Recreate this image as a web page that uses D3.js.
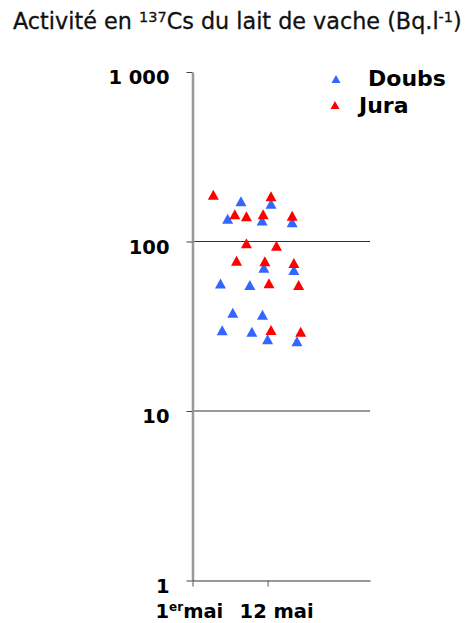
<!DOCTYPE html>
<html>
<head>
<meta charset="utf-8">
<script src="https://cdn.jsdelivr.net/npm/d3@7"></script>
<style>
  body { margin: 0; background: #fff; }
  text { font-family: "DejaVu Sans", sans-serif; fill: #000; }
</style>
</head>
<body>
<script>
// day of May (x) and activity in Bq/l (y)
var doubsDay = [8.1, 12.5, 6.15, 11.2, 15.6, 11.45, 15.85, 5.1, 9.4, 6.9, 11.25, 5.35, 9.7, 12.0, 16.3];
var doubsVal = [173, 167, 136, 133, 130, 70, 68, 56.6, 55.3, 38, 37, 30, 29.3, 26.5, 25.8];

var juraDay = [4.05, 12.5, 7.2, 8.9, 11.35, 15.6, 8.9, 13.3, 7.45, 11.6, 15.85, 12.2, 16.55, 12.5, 16.85];
var juraVal = [189, 185, 145, 141, 145, 142, 97.5, 94.4, 77, 76.4, 74.6, 56.8, 55.3, 30.1, 29.3];

var yTicks = [1, 10, 100, 1000];
var yTickLabels = ["1", "10", "100", "1 000"];
var gridVals = [10, 100];

var width = 473, height = 623;

var svg = d3.select("body").append("svg")
	.attr("width", width)
	.attr("height", height);

var x = d3.scaleLinear().domain([1, 27]).range([192.5, 370]);
var y = d3.scaleLog().domain([1, 1000]).range([580.5, 72]);

// title
var title = svg.append("text")
	.attr("x", 13)
	.attr("y", 29)
	.style("font-size", "22.3px")
	.style("fill", "#111")
	.style("stroke", "#111")
	.style("stroke-width", 0.3);
title.append("tspan").text("Activité en ");
title.append("tspan").attr("dy", -7).style("font-size", "14.5px").text("137");
title.append("tspan").attr("dy", 7).text("Cs du lait de vache (Bq.l");
title.append("tspan").attr("dy", -7).style("font-size", "14.5px").text("-1");
title.append("tspan").attr("dy", 7).text(")");

// gridlines
svg.selectAll(".grid")
	.data(gridVals)
	.enter()
	.append("line")
	.attr("class", "grid")
	.attr("x1", x(1))
	.attr("x2", x(27))
	.attr("y1", function (d) { return y(d); })
	.attr("y2", function (d) { return y(d); })
	.attr("stroke", "#333")
	.attr("stroke-width", 1);

// y axis
var yAxis = svg.append("g")
	.attr("transform", "translate(" + x(1) + ",0)")
	.call(d3.axisLeft(y).tickValues(yTicks).tickSize(6).tickFormat("").tickSizeOuter(0));
yAxis.select(".domain").attr("stroke", "#999").attr("stroke-width", 2.5);
yAxis.selectAll(".tick line").attr("stroke", "#444");

yAxis.selectAll(".ylab")
	.data(yTicks)
	.enter()
	.append("text")
	.attr("class", "ylab")
	.attr("x", -23)
	.attr("y", function (d) { return y(d) + 12; })
	.attr("text-anchor", "end")
	.style("font-size", "19.5px")
	.style("font-weight", "bold")
	.style("fill", "#000")
	.text(function (d, i) { return yTickLabels[i]; });

// x axis
var xAxis = svg.append("g")
	.attr("transform", "translate(0," + y(1) + ")")
	.call(d3.axisBottom(x).tickValues([1, 12]).tickSize(6).tickFormat("").tickSizeOuter(0));
xAxis.select(".domain").attr("stroke", "#333").attr("stroke-width", 1.2);
xAxis.selectAll(".tick line").attr("stroke", "#555");

var lab1 = svg.append("text")
	.attr("x", x(1) - 37)
	.attr("y", 618)
	.style("font-size", "19.5px")
	.style("font-weight", "bold");
lab1.append("tspan").text("1");
lab1.append("tspan").attr("dy", -7).style("font-size", "12px").text("er");
lab1.append("tspan").attr("dy", 7).text("mai");

svg.append("text")
	.attr("x", x(12) - 28)
	.attr("y", 618)
	.style("font-size", "19.5px")
	.style("font-weight", "bold")
	.text("12 mai");

// markers
function tri(w, h) {
	return "M0," + (-h / 2) + "L" + (w / 2) + "," + (h / 2) + "L" + (-w / 2) + "," + (h / 2) + "Z";
}

var doubs = doubsDay.map(function (d, i) { return { day: d, val: doubsVal[i] }; });
var jura = juraDay.map(function (d, i) { return { day: d, val: juraVal[i] }; });

svg.selectAll(".doubs")
	.data(doubs)
	.enter()
	.append("path")
	.attr("class", "doubs")
	.attr("d", tri(11, 10))
	.attr("transform", function (d) { return "translate(" + x(d.day) + "," + y(d.val) + ")"; })
	.attr("fill", "#3366ff");

svg.selectAll(".jura")
	.data(jura)
	.enter()
	.append("path")
	.attr("class", "jura")
	.attr("d", tri(11, 10))
	.attr("transform", function (d) { return "translate(" + x(d.day) + "," + y(d.val) + ")"; })
	.attr("fill", "#ff0000");

// legend
var legend = [
	{ name: "Doubs", color: "#3366ff", tx: 336, ty: 79, lx: 368, ly: 86 },
	{ name: "Jura", color: "#ff0000", tx: 335, ty: 105, lx: 359, ly: 113 }
];

var lg = svg.selectAll(".leg")
	.data(legend)
	.enter()
	.append("g")
	.attr("class", "leg");

lg.append("path")
	.attr("d", tri(9, 8))
	.attr("transform", function (d) { return "translate(" + d.tx + "," + d.ty + ")"; })
	.attr("fill", function (d) { return d.color; });

lg.append("text")
	.attr("x", function (d) { return d.lx; })
	.attr("y", function (d) { return d.ly; })
	.style("font-size", "22px")
	.style("font-weight", "bold")
	.text(function (d) { return d.name; });
</script>
</body>
</html>
